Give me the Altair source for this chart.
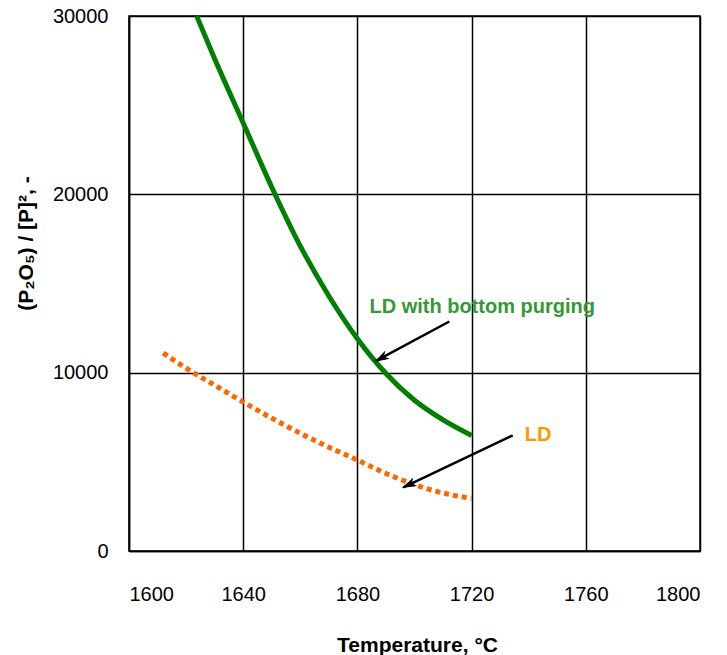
import math
import altair as alt
import pandas as pd

# LD with bottom purging (green solid curve)
temp_bp = [1623.7, 1630, 1640, 1650, 1660, 1670, 1680, 1690, 1700, 1710, 1720]
ratio_bp = [30000, 27600, 24000, 20400, 17100, 14300, 11900, 9950, 8450, 7350, 6480]

# LD (orange dotted curve)
temp_ld = [1612, 1620, 1630, 1640, 1650, 1660, 1670, 1680, 1690, 1700, 1710, 1720]
ratio_ld = [11100, 10250, 9300, 8350, 7450, 6600, 5820, 5100, 4350, 3720, 3250, 2950]

# annotation arrows: tail -> tip
arrow_names = ["bp", "ld"]
arrow_x = [1712.2, 1734.4]
arrow_y = [12870, 6480]
arrow_x2 = [1686.5, 1696.1]
arrow_y2 = [10660, 3570]

# labels
label_text = ["LD with bottom purging", "LD"]
label_x = [1723.7, 1743.3]
label_y = [13700, 6530]
label_color = ["#339933", "#ff9900"]

x_ticks = [1600, 1640, 1680, 1720, 1760, 1800]
y_ticks = [0, 10000, 20000, 30000]

W, H = 571, 535
X_DOM = [1600, 1800]
Y_DOM = [0, 30000]

bp = pd.DataFrame({"t": temp_bp, "r": ratio_bp})
ld = pd.DataFrame({"t": temp_ld, "r": ratio_ld})


def heading(x0, y0, x1, y1):
    # direction of the arrow in screen space, clockwise from "up"
    dx = (x1 - x0) / (X_DOM[1] - X_DOM[0]) * W
    dy = -(y1 - y0) / (Y_DOM[1] - Y_DOM[0]) * H
    return math.degrees(math.atan2(dx, -dy)) % 360


arrows = pd.DataFrame({
    "name": arrow_names,
    "x": arrow_x, "y": arrow_y, "x2": arrow_x2, "y2": arrow_y2,
})
arrows["angle"] = [heading(a, b, c, d) for a, b, c, d in zip(arrow_x, arrow_y, arrow_x2, arrow_y2)]
labels = pd.DataFrame({"text": label_text, "x": label_x, "y": label_y, "color": label_color})

xs = alt.Scale(domain=X_DOM, nice=False)
ys = alt.Scale(domain=Y_DOM, nice=False)

x_axis = alt.Axis(values=x_ticks, format="d", title="Temperature, °C", grid=True,
                  ticks=False, labelPadding=33,
                  titleX=288, titleY=94, titleBaseline="middle", titleAlign="center")
y_axis = alt.Axis(values=y_ticks, format="d", title="(P₂O₅) / [P]², -", grid=True,
                  ticks=False, labelPadding=21,
                  titleX=-103, titleY=227, titleBaseline="middle", titleAlign="center",
                  titleAngle=270)

green = alt.Chart(bp).mark_line(color="#008000", strokeWidth=5, interpolate="monotone").encode(
    x=alt.X("t:Q", scale=xs, axis=x_axis),
    y=alt.Y("r:Q", scale=ys, axis=y_axis),
)

orange = alt.Chart(ld).mark_line(color="#ff6600", strokeWidth=5, strokeDash=[5, 4],
                                 interpolate="monotone").encode(
    x=alt.X("t:Q", scale=xs),
    y=alt.Y("r:Q", scale=ys),
)

shafts = alt.Chart(arrows).mark_rule(color="black", strokeWidth=2.5).encode(
    x=alt.X("x:Q", scale=xs), y=alt.Y("y:Q", scale=ys),
    x2="x2:Q", y2="y2:Q",
)

# arrowhead with its tip at the symbol origin, pointing up before rotation
heads = alt.Chart(arrows).mark_point(
    shape="M 0 0 L -0.5 1.6 L 0 1.15 L 0.5 1.6 Z",
    filled=True, fill="black", stroke="black", strokeWidth=1, opacity=1, size=210,
).encode(
    x=alt.X("x2:Q", scale=xs), y=alt.Y("y2:Q", scale=ys),
    angle=alt.Angle("angle:Q", scale=None),
)

texts = alt.Chart(labels).mark_text(fontSize=20, fontWeight="bold", font="Liberation Sans").encode(
    x=alt.X("x:Q", scale=xs), y=alt.Y("y:Q", scale=ys),
    text="text:N",
    color=alt.Color("color:N", scale=None),
)

chart = alt.layer(green, orange, shafts, heads, texts).properties(
    width=W, height=H,
    background="white",
    autosize=alt.AutoSizeParams(type="none"),
    padding={"left": 129, "top": 16, "right": 27, "bottom": 104},
).configure_view(
    stroke="black", strokeWidth=1.5,
).configure_axis(
    domainColor="black", domainWidth=1.5,
    gridColor="black", gridWidth=1.5, gridOpacity=1,
    labelFont="Liberation Sans", labelFontSize=20, labelColor="black",
    titleFont="Liberation Sans", titleFontSize=21, titleFontWeight="bold", titleColor="black",
)

chart.save("out.html", embed_options={"renderer": "svg", "actions": False})
